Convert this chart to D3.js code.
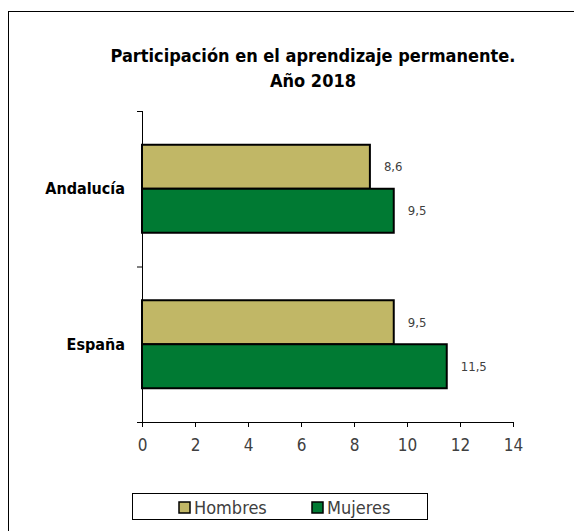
<html>
<script src='https://cdnjs.cloudflare.com/ajax/libs/d3/7.8.5/d3.min.js'></script>
<style>
body {margin:0; background:white;}
text {font-family: "DejaVu Sans Condensed", "DejaVu Sans", sans-serif; font-stretch: condensed;}
</style>
<body>
<svg width=574 height=531></svg>
<script>
var categories = ["Andalucía", "España"];
var series = ["Hombres", "Mujeres"];
var hombres = [8.6, 9.5];
var mujeres = [9.5, 11.5];
var xTicks = [0, 2, 4, 6, 8, 10, 12, 14];
var colors = {"Hombres": "#c1b766", "Mujeres": "#007a33"};

var svg = d3.select("svg");

// outer frame (only left and top visible)
svg.append("rect").attr("x", 8.5).attr("y", 11.5).attr("width", 600).attr("height", 600)
  .style("fill", "white").style("stroke", "black").style("stroke-width", 1);

var x = d3.scaleLinear().domain([0, 14]).range([142, 513]);
var y = d3.scaleBand().domain(categories).range([111, 422]);
var inner = d3.scaleBand().domain(series).range([0, 88]);

var fmt = function(v) {return d3.format(".1f")(v).replace(".", ",");};

var data = [];
categories.forEach(function(c, i) {
  data.push({cat: c, s: "Hombres", v: hombres[i]});
  data.push({cat: c, s: "Mujeres", v: mujeres[i]});
});

var off = (y.bandwidth() - 88) / 2;

svg.append("g").selectAll("rect")
.data(data)
.enter()
.append("rect")
.attr("x", x(0))
.attr("y", function(d) {return y(d.cat) + off + inner(d.s);})
.attr("width", function(d) {return x(d.v) - x(0);})
.attr("height", inner.bandwidth())
.style("fill", function(d) {return colors[d.s];})
.style("stroke", "black").style("stroke-width", 2);

// value labels
svg.append("g").selectAll("text")
.data(data)
.enter()
.append("text")
.attr("x", function(d) {return x(d.v) + 14;})
.attr("y", function(d) {return y(d.cat) + off + inner(d.s) + inner.bandwidth() / 2;})
.attr("dy", "0.35em")
.style("font-size", "13px").style("fill", "#404040")
.text(function(d) {return fmt(d.v);});

// x axis
var xa = svg.append("g")
.attr("transform", "translate(0,422)")
.call(d3.axisBottom(x).tickValues(xTicks).tickSize(5).tickSizeOuter(0).tickFormat(d3.format("d")));
xa.select(".domain").attr("d", "M137,0.5H513.5").style("stroke", "black");
xa.selectAll(".tick text").attr("y", 17).style("font-size", "17px").style("fill", "#404040").style("font-family", null);

// y axis
var ya = svg.append("g").attr("transform", "translate(142,0)");
ya.append("line").attr("x1", 0.5).attr("x2", 0.5).attr("y1", 111).attr("y2", 422).style("stroke", "black");
[111, 266.5].forEach(function(t) {
  ya.append("line").attr("x1", -5).attr("x2", 0.5).attr("y1", t + 0.5).attr("y2", t + 0.5).style("stroke", "black");
});
y.domain().forEach(function(c) {
  svg.append("text")
  .attr("x", 125)
  .attr("y", y(c) + y.bandwidth() / 2)
  .attr("dy", "0.35em")
  .attr("text-anchor", "end")
  .style("font-size", "16px").style("font-weight", "bold")
  .text(c);
});

// title
var title = svg.append("text").attr("text-anchor", "middle").style("font-size", "18px").style("font-weight", "bold");
title.append("tspan").attr("x", 313).attr("y", 62).text("Participación en el aprendizaje permanente.");
title.append("tspan").attr("x", 313).attr("y", 87).text("Año 2018");

// legend
var lg = svg.append("g");
lg.append("rect").attr("x", 132.5).attr("y", 493.5).attr("width", 295).attr("height", 26)
  .style("fill", "white").style("stroke", "black");
var lx = [179, 312];
series.forEach(function(s, i) {
  lg.append("rect").attr("x", lx[i]).attr("y", 502).attr("width", 11).attr("height", 11)
    .style("fill", colors[s]).style("stroke", "black").style("stroke-width", 1.5);
  lg.append("text").attr("x", lx[i] + 15).attr("y", 507.5).attr("dy", "0.35em")
    .style("font-size", "18px").style("fill", "#404040").text(s);
});
</script>
</body>
</html>
